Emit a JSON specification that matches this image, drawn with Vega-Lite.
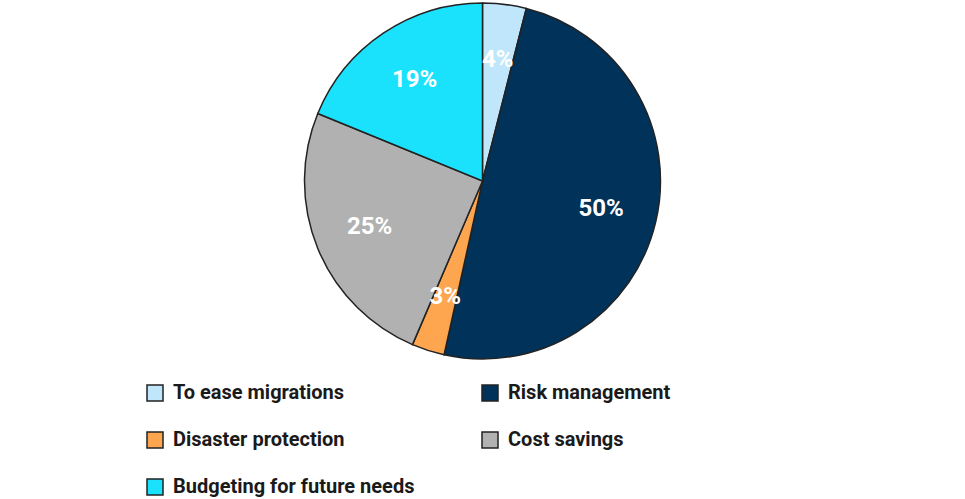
{
  "$schema": "https://vega.github.io/schema/vega-lite/v6.json",
  "width": 965,
  "height": 360,
  "padding": 0,
  "autosize": {"type": "pad"},
  "background": "white",
  "data": {
    "values": [
      {"category": "To ease migrations", "value": 4, "order": 1, "label": "4%"},
      {"category": "Risk management", "value": 50, "order": 2, "label": "50%"},
      {"category": "Disaster protection", "value": 3, "order": 3, "label": "3%"},
      {"category": "Cost savings", "value": 25, "order": 4, "label": "25%"},
      {"category": "Budgeting for future needs", "value": 19, "order": 5, "label": "19%"}
    ]
  },
  "encoding": {
    "theta": {"field": "value", "type": "quantitative", "stack": true},
    "order": {"field": "order", "type": "quantitative"},
    "color": {
      "field": "category",
      "type": "nominal",
      "sort": ["To ease migrations", "Risk management", "Disaster protection", "Cost savings", "Budgeting for future needs"],
      "scale": {
        "domain": ["To ease migrations", "Risk management", "Disaster protection", "Cost savings", "Budgeting for future needs"],
        "range": ["#bfe6fb", "#00325a", "#fda54f", "#b1b1b1", "#1ae2fd"]
      },
      "legend": {
        "title": null,
        "orient": "none",
        "legendX": 145,
        "legendY": 382,
        "direction": "horizontal",
        "columns": 2,
        "columnPadding": 64,
        "rowPadding": 25,
        "symbolType": "square",
        "symbolSize": 256,
        "symbolStrokeColor": "#222222",
        "symbolStrokeWidth": 1.5,
        "symbolOffset": 0,
        "labelFont": "Liberation Sans Narrow, Roboto, sans-serif",
        "labelFontSize": 20,
        "labelFontWeight": "bold",
        "labelColor": "#1a1a1a",
        "labelLimit": 400,
        "labelOffset": 8
      }
    }
  },
  "layer": [
    {
      "mark": {"type": "arc", "outerRadius": 178, "stroke": "#222222", "strokeWidth": 1.5}
    },
    {
      "mark": {"type": "text", "radius": 122, "font": "Liberation Sans Narrow, Roboto, sans-serif", "fontSize": 24, "fontWeight": "bold", "fill": "white"},
      "encoding": {
        "text": {"field": "label", "type": "nominal"},
        "color": {"value": "white"}
      }
    }
  ]
}
